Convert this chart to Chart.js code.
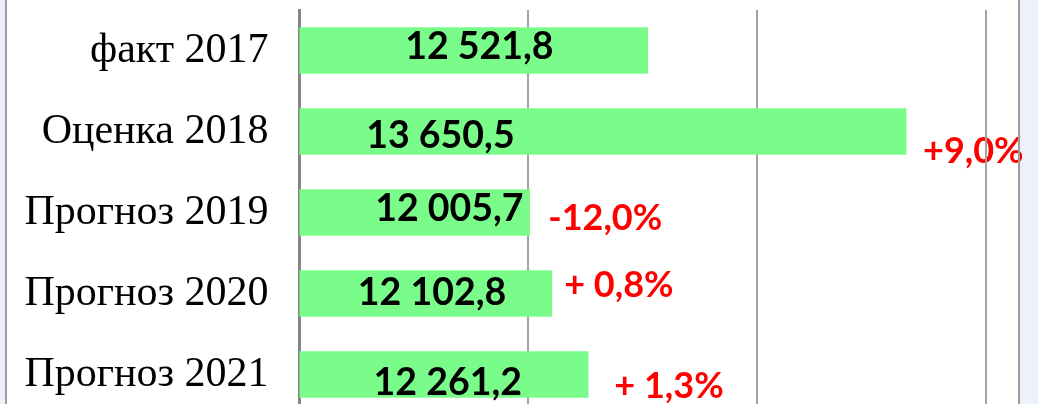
<!DOCTYPE html>
<html>
<head>
<meta charset="utf-8">
<script src="https://cdn.jsdelivr.net/npm/chart.js@4"></script>
<style>
    html, body { margin: 0; padding: 0; overflow: hidden; background: #edf1fa; }
    .panel { position: absolute; left: 7px; top: 0; width: 1011px; height: 416px; background: #fff; }
    .edge { position: absolute; top: 0; width: 2px; height: 416px; background: #9c9c9c; }
    #chart { position: absolute; left: 7px; top: 0; }
</style>
</head>
<body>
<div class="panel"></div>
<canvas id="chart" width="1031" height="416"></canvas>
<div class="edge" style="left: 5px"></div>
<div class="edge" style="left: 1018px"></div>
<script>
// Chart data
const categories = ['факт 2017', 'Оценка 2018', 'Прогноз 2019', 'Прогноз 2020', 'Прогноз 2021'];
const values = [12521.8, 13650.5, 12005.7, 12102.8, 12261.2];
const changeLabels = ['', '+9,0%', '-12,0%', '+ 0,8%', '+ 1,3%'];
const gridValues = [11000, 12000, 13000, 14000];
const axisMin = 11000;
const axisMax = 14140;

// "12521.8" -> "12 521,8"
function formatValue(v) {
    const parts = v.toFixed(1).split('.');
    return parts[0].replace(/\B(?=(\d{3})+(?!\d))/g, ' ') + ',' + parts[1];
}

// Value labels inside the bars (drawn on top of the bars)
// and red change labels (drawn under the grid lines, like the original)
const barNotes = {
    id: 'barNotes',
    beforeDraw(chart, args, opts) {
        const { ctx, scales: { x, y } } = chart;
        ctx.save();
        ctx.textBaseline = 'alphabetic';
        ctx.font = opts.changeFont;
        ctx.fillStyle = '#ff0000';
        ctx.textAlign = 'left';
        changeLabels.forEach((t, i) => {
            if (!t) return;
            ctx.fillText(t, x.getPixelForValue(opts.changeAt[i]), y.getPixelForValue(i) + opts.changeDy[i]);
        });
        ctx.restore();
    },
    afterDatasetsDraw(chart, args, opts) {
        const { ctx, scales: { x, y } } = chart;
        ctx.save();
        ctx.textBaseline = 'alphabetic';
        ctx.font = opts.valueFont;
        ctx.fillStyle = '#000';
        ctx.textAlign = 'center';
        values.forEach((v, i) => {
            ctx.fillText(formatValue(v), x.getPixelForValue(opts.valueAt[i]), y.getPixelForValue(i) + opts.valueDy[i]);
        });
        ctx.restore();
    }
};

const ctx = document.getElementById('chart').getContext('2d');
new Chart(ctx, {
    type: 'bar',
    data: {
        labels: categories,
        datasets: [{
            data: values,
            backgroundColor: 'rgb(122, 252, 138)',
            borderWidth: 0,
            barThickness: 46
        }]
    },
    options: {
        indexAxis: 'y',
        responsive: false,
        animation: false,
        layout: {
            padding: { top: 10, bottom: 1, left: 0, right: 20 }
        },
        plugins: {
            legend: { display: false },
            tooltip: { enabled: false },
            barNotes: {
                valueFont: 'bold 37.5px Lato',
                changeFont: 'bold 36px Lato',
                valueAt: [11786, 11616, 11655, 11579, 11648],
                valueDy: [8.5, 16.5, 8.5, 11.5, 20.5],
                changeAt: [0, 13725, 12087, 12157, 12376],
                changeDy: [0, 31.5, 17.5, 3.5, 23.5]
            }
        },
        scales: {
            x: {
                min: axisMin,
                max: axisMax,
                ticks: { display: false },
                // grid lines only at the round values
                afterBuildTicks: scale => {
                    scale.ticks = gridValues.map(v => ({ value: v }));
                },
                grid: {
                    color: '#a3a3a3',
                    lineWidth: 2,
                    drawTicks: false
                },
                border: { display: false }
            },
            y: {
                afterFit: scale => {
                    scale.width = 292.5;
                    scale.paddingTop = 0;
                    scale.paddingBottom = 0;
                },
                ticks: {
                    color: '#000',
                    padding: 31,
                    font: { family: 'Liberation Serif', size: 42 }
                },
                grid: { display: false, drawTicks: false },
                border: { display: true, color: '#858585', width: 3 }
            }
        }
    },
    plugins: [barNotes]
});
</script>
</body>
</html>
